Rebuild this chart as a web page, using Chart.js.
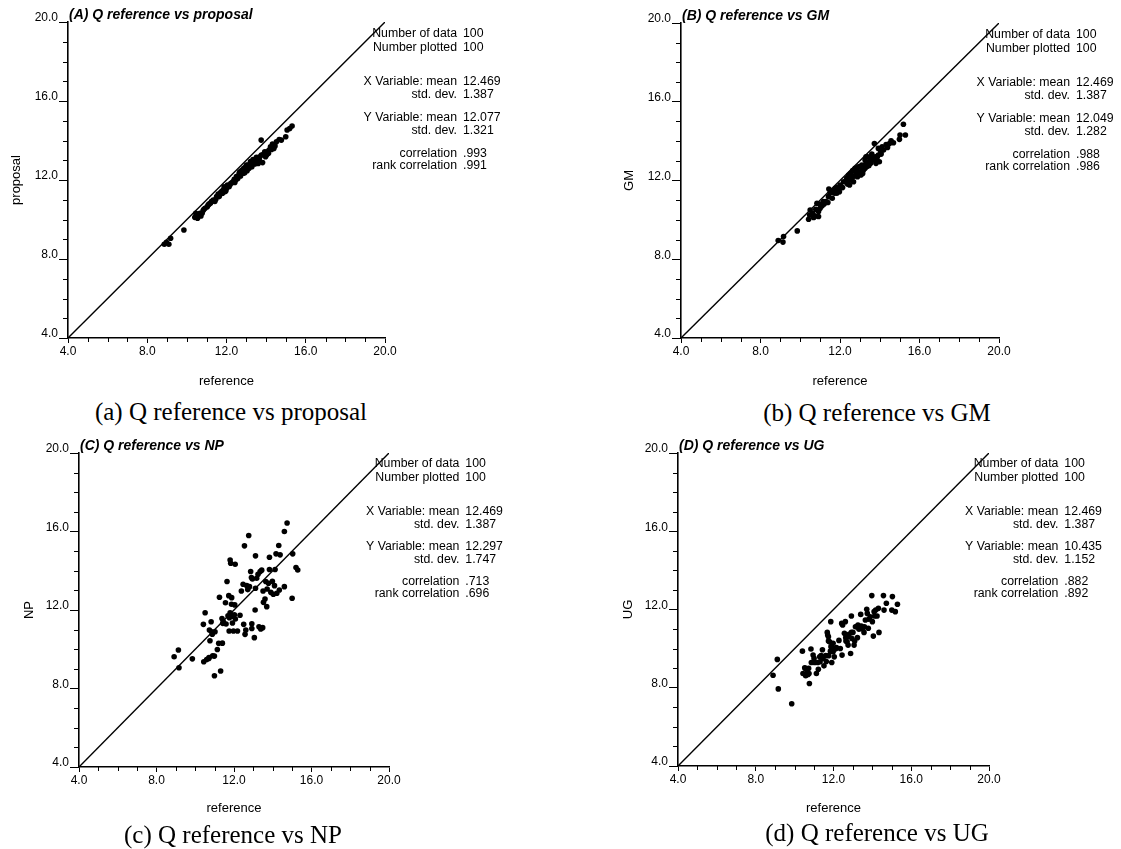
<!DOCTYPE html>
<html>
<head>
<meta charset="utf-8">
<script src="https://cdn.jsdelivr.net/npm/chart.js@4.4.1/dist/chart.umd.min.js"></script>
<style>
  body { margin: 0; background: #fff; width: 1121px; height: 849px; position: relative; overflow: hidden; }
  canvas { position: absolute; }
  .caption {
    position: absolute;
    font-family: "Liberation Serif", "Times New Roman", serif;
    font-size: 25px;
    color: #000;
    white-space: nowrap;
    transform: translate(-50%, -50%);
  }
</style>
</head>
<body>
<script>
// ---- data ----
const tickValues = [4, 8, 12, 16, 20];
const diagonal = [4, 20];
const panelLetters = ['A', 'B', 'C', 'D'];
const yNames = ['proposal', 'GM', 'NP', 'UG'];
const xName = 'reference';

const nData = ['100', '100', '100', '100'];
const nPlotted = ['100', '100', '100', '100'];
const xMean = ['12.469', '12.469', '12.469', '12.469'];
const xStd = ['1.387', '1.387', '1.387', '1.387'];
const yMean = ['12.077', '12.049', '12.297', '10.435'];
const yStd = ['1.321', '1.282', '1.747', '1.152'];
const corr = ['.993', '.988', '.713', '.882'];
const rankCorr = ['.991', '.986', '.696', '.892'];

// (A) reference vs proposal
const xA = [8.86, 8.97, 9.09, 9.18, 9.85, 10.40, 10.45, 10.54, 10.62, 10.71, 10.77, 10.82, 10.92, 11.03, 11.13,
  11.24, 11.33, 11.41, 11.50, 11.58, 11.66, 11.75, 11.83, 11.88, 11.97, 12.05, 12.13, 12.22, 12.34, 12.42,
  12.50, 12.57, 12.64, 12.71, 12.76, 12.81, 12.87, 12.92, 12.97, 13.04, 13.09, 13.14, 13.21, 13.28, 13.34,
  13.43, 13.51, 13.60, 13.68, 13.75, 13.82, 13.88, 13.97, 14.05, 14.15, 14.22, 14.32, 14.39, 14.52, 14.66,
  14.77, 14.99, 15.06, 15.19, 15.31, 10.49, 10.66, 10.86, 11.08, 11.19, 11.46, 11.63, 11.80, 11.92, 12.00,
  12.17, 12.29, 12.39, 12.47, 12.61, 12.67, 12.79, 12.84, 12.96, 13.01, 13.08, 13.18, 13.24, 13.31, 13.38,
  13.48, 13.55, 13.65, 13.76, 13.93, 14.02, 14.12, 14.27, 14.45, 11.70];
const yA = [8.75, 8.85, 8.75, 9.05, 9.47, 10.11, 10.32, 10.06, 10.23, 10.18, 10.32, 10.45, 10.57, 10.65, 10.79,
  10.91, 10.99, 10.91, 11.16, 11.29, 11.24, 11.41, 11.49, 11.66, 11.46, 11.75, 11.66, 11.83, 11.92, 11.87,
  12.17, 12.08, 12.34, 12.20, 12.47, 12.34, 12.59, 12.37, 12.67, 12.47, 12.76, 12.59, 12.93, 12.67, 13.04,
  12.81, 13.15, 12.84, 13.18, 14.02, 12.88, 13.31, 13.18, 13.43, 13.52, 13.68, 13.82, 13.60, 13.94, 14.05,
  14.02, 14.19, 14.53, 14.61, 14.73, 10.18, 10.32, 10.52, 10.74, 10.82, 11.02, 11.16, 11.33, 11.41, 11.58,
  11.75, 11.87, 12.03, 12.00, 12.20, 12.42, 12.51, 12.34, 12.54, 12.76, 12.59, 12.76, 12.84, 12.93, 12.84,
  13.01, 12.93, 13.04, 13.26, 13.43, 13.26, 13.35, 13.55, 13.72, 11.36];

// (B) reference vs GM
const xB = [8.89, 9.13, 9.16, 9.85, 10.42, 10.47, 10.50, 10.60, 10.70, 10.75, 10.84, 10.92, 11.00, 11.10, 11.17,
  11.29, 11.39, 11.44, 11.51, 11.61, 11.67, 11.76, 11.84, 11.87, 11.97, 12.01, 12.13, 12.31, 12.38, 12.48,
  12.44, 12.54, 12.59, 12.64, 12.71, 12.76, 12.81, 12.88, 12.93, 12.98, 13.05, 13.10, 13.18, 13.26, 13.31,
  13.40, 13.45, 13.52, 13.60, 13.65, 13.73, 13.77, 13.85, 13.93, 13.98, 14.05, 14.12, 14.19, 14.32, 14.39,
  14.57, 14.69, 14.99, 15.02, 15.19, 15.29, 10.67, 12.34, 12.51, 12.68, 12.84, 13.01, 13.14, 13.34, 13.47,
  13.54, 13.68, 13.81, 13.88, 13.26, 12.93, 12.63, 12.18, 11.92, 11.72, 11.56, 11.20, 11.00, 10.78, 10.63,
  10.92, 13.10, 12.78, 14.07, 13.93, 13.60, 13.31, 11.42, 12.04, 14.49];
const yB = [8.95, 8.87, 9.15, 9.44, 10.03, 10.25, 10.50, 10.30, 10.15, 10.20, 10.84, 10.42, 10.59, 10.72, 10.93,
  10.93, 10.88, 11.57, 11.38, 11.10, 11.47, 11.60, 11.35, 11.65, 11.43, 11.77, 11.64, 11.94, 11.82, 11.77,
  12.28, 12.36, 12.11, 12.50, 12.23, 12.62, 12.36, 12.19, 12.70, 12.41, 12.28, 12.79, 12.53, 13.04, 12.87,
  13.21, 12.75, 13.12, 13.34, 13.04, 13.88, 13.21, 13.04, 13.29, 12.95, 13.46, 13.71, 13.55, 13.83, 13.68,
  14.02, 13.92, 14.09, 14.31, 14.86, 14.31, 10.12, 12.11, 12.02, 11.94, 12.53, 12.70, 12.36, 12.70, 12.95,
  12.87, 13.12, 12.87, 13.21, 12.62, 12.36, 12.19, 11.94, 11.52, 11.35, 11.48, 10.81, 10.81, 10.54, 10.34,
  10.17, 12.53, 12.50, 13.34, 13.63, 13.04, 13.21, 11.18, 11.69, 13.88];

// (C) reference vs NP
const xC = [8.91, 9.13, 9.16, 9.85, 10.42, 10.51, 10.44, 10.59, 10.71, 10.73, 10.82, 10.76, 10.88, 10.90, 10.99,
  10.99, 11.02, 11.14, 11.25, 11.21, 11.40, 11.31, 11.38, 11.45, 11.56, 11.59, 11.64, 11.75, 11.73, 11.80,
  11.83, 11.88, 11.87, 11.80, 11.76, 11.90, 11.92, 11.97, 12.02, 12.06, 12.07, 12.18, 12.31, 12.38, 12.47,
  12.50, 12.54, 12.57, 12.61, 12.66, 12.71, 12.76, 12.86, 12.90, 12.92, 12.92, 13.05, 13.09, 13.11, 13.11,
  13.17, 13.24, 13.29, 13.35, 13.38, 13.43, 13.48, 13.50, 13.52, 13.60, 13.64, 13.69, 13.71, 13.83, 13.83,
  13.98, 14.03, 14.09, 14.12, 14.17, 14.21, 14.31, 14.34, 14.38, 14.60, 14.60, 14.74, 15.00, 15.03, 15.20,
  15.29, 12.04, 10.85, 12.95, 13.78, 11.42, 11.69, 13.90, 10.70, 12.80];
const yC = [9.62, 9.96, 9.06, 9.51, 11.27, 11.86, 9.36, 9.48, 9.58, 10.98, 11.40, 10.43, 10.77, 9.67, 9.65,
  8.65, 10.89, 9.99, 12.65, 10.30, 10.31, 8.89, 11.57, 11.40, 12.37, 11.29, 13.45, 10.93, 12.73, 14.55,
  14.38, 12.63, 12.29, 11.86, 11.61, 11.68, 11.34, 10.93, 11.76, 14.33, 11.54, 10.93, 11.73, 12.97, 13.31,
  11.27, 15.27, 10.76, 10.98, 13.24, 13.04, 15.80, 13.96, 13.65, 11.30, 11.06, 10.59, 12.00, 13.11, 14.76,
  13.62, 13.82, 11.15, 13.96, 11.03, 14.03, 11.10, 12.97, 12.39, 12.56, 13.45, 12.17, 13.07, 14.06, 14.69,
  13.46, 12.80, 13.24, 14.06, 14.86, 12.85, 15.29, 13.02, 14.81, 13.19, 16.00, 16.43, 12.60, 14.86, 14.16,
  14.04, 12.26, 10.89, 13.58, 13.36, 11.32, 11.71, 12.90, 9.53, 13.19];

// (D) reference vs UG
const xD = [8.89, 9.11, 9.16, 9.85, 10.40, 10.43, 10.55, 10.57, 10.64, 10.72, 10.76, 10.74, 10.84, 10.86, 10.95,
  11.00, 11.12, 11.22, 11.31, 11.36, 11.43, 11.51, 11.60, 11.63, 11.68, 11.74, 11.75, 11.80, 11.86, 11.87,
  11.91, 11.92, 11.98, 12.03, 12.04, 12.15, 12.28, 12.35, 12.44, 12.47, 12.56, 12.61, 12.63, 12.70, 12.75,
  12.80, 12.88, 12.92, 12.92, 12.95, 13.06, 13.09, 13.13, 13.23, 13.26, 13.35, 13.40, 13.43, 13.50, 13.57,
  13.64, 13.71, 13.74, 13.79, 13.97, 14.00, 14.05, 14.12, 14.17, 14.24, 14.31, 14.34, 14.57, 14.60, 14.72,
  15.00, 15.03, 15.18, 15.29, 11.74, 11.98, 11.84, 11.29, 11.03, 10.52, 12.75, 13.00, 13.31, 13.59, 13.82,
  14.09, 12.42, 12.10, 11.70, 11.46, 11.19, 12.64, 13.18, 13.89, 10.69];
const yD = [8.64, 9.45, 7.94, 7.18, 9.87, 8.73, 8.99, 8.61, 8.76, 8.99, 8.22, 8.73, 9.98, 9.29, 9.67,
  9.50, 8.73, 8.94, 9.33, 9.64, 9.94, 9.12, 9.64, 9.34, 10.83, 10.61, 9.64, 10.35, 11.38, 10.10,
  9.29, 9.87, 10.27, 10.01, 9.58, 10.05, 10.42, 10.01, 9.67, 11.21, 10.78, 11.38, 10.56, 10.35, 10.18,
  10.73, 9.75, 11.67, 10.83, 10.52, 10.18, 10.39, 11.12, 10.56, 11.21, 11.04, 11.75, 11.16, 11.00, 10.83,
  11.46, 12.01, 11.80, 11.04, 12.71, 11.38, 10.64, 11.67, 11.97, 11.67, 12.06, 10.83, 12.71, 11.97, 12.32,
  11.97, 12.66, 11.89, 12.27, 10.39, 9.84, 9.87, 9.58, 9.29, 9.02, 10.61, 10.83, 10.99, 11.12, 11.50,
  11.89, 11.29, 9.98, 10.70, 9.50, 9.29, 10.39, 11.12, 11.63, 8.68];

const xSeries = [xA, xB, xC, xD];
const ySeries = [yA, yB, yC, yD];

// ---- layout of each panel's plot area on the page ----
const boxes = [
  { l: 68, t: 22, r: 385, b: 338, s: 1, yTitlePad: 9, xTitlePad: 9, capX: 231, capY: 412 },
  { l: 681, t: 23, r: 999, b: 338, s: 1, yTitlePad: 9, xTitlePad: 9, capX: 877, capY: 413 },
  { l: 79, t: 453, r: 389, b: 767, s: 0.978, yTitlePad: 11, xTitlePad: 11, capX: 233, capY: 835 },
  { l: 678, t: 453, r: 989, b: 766, s: 0.978, yTitlePad: 11, xTitlePad: 10, capX: 877, capY: 833 }
];

Chart.defaults.font.family = '"Liberation Sans", Arial, sans-serif';
Chart.defaults.color = '#000';

const Y_AXIS_W = 68;
const X_AXIS_H = 60;

function decorPlugin(i) {
  const box = boxes[i];
  const stats = [
    ['Number of data', nData[i], 11.3],
    ['Number plotted', nPlotted[i], 25.3],
    ['X Variable: mean', xMean[i], 59.7],
    ['std. dev.', xStd[i], 73],
    ['Y Variable: mean', yMean[i], 95.3],
    ['std. dev.', yStd[i], 108.7],
    ['correlation', corr[i], 131.3],
    ['rank correlation', rankCorr[i], 143.7]
  ];
  return {
    id: 'decor' + i,
    afterDraw(chart) {
      const ctx = chart.ctx;
      const a = chart.chartArea;
      const xs = chart.scales.x;
      const ys = chart.scales.y;
      ctx.save();
      // minor ticks every unit
      ctx.strokeStyle = '#000';
      ctx.lineWidth = 1;
      ctx.beginPath();
      for (let v = tickValues[0]; v <= tickValues[tickValues.length - 1]; v++) {
        if (tickValues.includes(v)) continue;
        const px = Math.round(xs.getPixelForValue(v)) + 0.5;
        ctx.moveTo(px, a.bottom);
        ctx.lineTo(px, a.bottom + 4);
        const py = Math.round(ys.getPixelForValue(v)) + 0.5;
        ctx.moveTo(a.left - 5, py);
        ctx.lineTo(a.left, py);
      }
      ctx.stroke();

      // panel title
      ctx.fillStyle = '#000';
      ctx.font = 'italic bold 14px "Liberation Sans", Arial, sans-serif';
      ctx.textAlign = 'left';
      ctx.textBaseline = 'middle';
      ctx.fillText('(' + panelLetters[i] + ') Q ' + xName + ' vs ' + yNames[i], a.left + 1, a.top - 7);

      // statistics block
      ctx.font = '12.3px "Liberation Sans", Arial, sans-serif';
      stats.forEach(function (row) {
        const y = a.top + row[2] * box.s;
        ctx.textAlign = 'right';
        ctx.fillText(row[0], a.left + 389 * box.s, y);
        ctx.textAlign = 'left';
        ctx.fillText(row[1], a.left + 395 * box.s, y);
      });
      ctx.restore();
    }
  };
}

function makePanel(i) {
  const box = boxes[i];
  const left = box.l - Y_AXIS_W;
  const top = box.t - 22;
  const width = Math.min(560, 1121 - left);
  const height = (box.b - box.t) + 22 + X_AXIS_H;

  const canvas = document.createElement('canvas');
  canvas.width = width;
  canvas.height = height;
  canvas.style.left = left + 'px';
  canvas.style.top = top + 'px';
  canvas.style.width = width + 'px';
  canvas.style.height = height + 'px';
  document.body.appendChild(canvas);

  const points = xSeries[i].map(function (x, k) { return { x: x, y: ySeries[i][k] }; });

  const axisCommon = {
    type: 'linear',
    min: tickValues[0],
    max: tickValues[tickValues.length - 1],
    afterBuildTicks: function (s) { s.ticks = tickValues.map(function (v) { return { value: v }; }); },
    border: { display: true, color: '#000', width: 1.6 },
  };

  new Chart(canvas, {
    data: {
      datasets: [
        {
          type: 'line',
          data: diagonal.map(function (v) { return { x: v, y: v }; }),
          borderColor: '#000',
          borderWidth: 1.4,
          pointRadius: 0,
          fill: false
        },
        {
          type: 'scatter',
          data: points,
          backgroundColor: '#000',
          borderWidth: 0,
          pointRadius: 2.8
        }
      ]
    },
    options: {
      responsive: false,
      animation: false,
      devicePixelRatio: 1,
      layout: {
        padding: { left: 0, top: 22, right: width - Y_AXIS_W - (box.r - box.l), bottom: 0 }
      },
      plugins: { legend: { display: false }, tooltip: { enabled: false } },
      scales: {
        x: Object.assign({}, axisCommon, {
          position: 'bottom',
          afterFit: function (s) { s.height = X_AXIS_H; },
          grid: { display: true, drawOnChartArea: false, drawTicks: true, tickLength: 5, color: '#000', tickColor: '#000' },
          ticks: { font: { size: 12 }, color: '#000', padding: 1, maxRotation: 0,
            callback: function (v) { return Number(v).toFixed(1); } },
          title: { display: true, text: xName, font: { size: 13 }, color: '#000', padding: { top: 0, bottom: box.xTitlePad } }
        }),
        y: Object.assign({}, axisCommon, {
          position: 'left',
          afterFit: function (s) { s.width = Y_AXIS_W; },
          grid: { display: true, drawOnChartArea: false, drawTicks: true, tickLength: 9, color: '#000', tickColor: '#000' },
          ticks: { font: { size: 12 }, color: '#000', padding: 1, labelOffset: -4,
            callback: function (v) { return Number(v).toFixed(1); } },
          title: { display: true, text: yNames[i], font: { size: 13 }, color: '#000', padding: { top: box.yTitlePad, bottom: 0 } }
        })
      }
    },
    plugins: [decorPlugin(i)]
  });

  const cap = document.createElement('div');
  cap.className = 'caption';
  cap.style.left = box.capX + 'px';
  cap.style.top = box.capY + 'px';
  cap.textContent = '(' + panelLetters[i].toLowerCase() + ') Q ' + xName + ' vs ' + yNames[i];
  document.body.appendChild(cap);
}

for (let i = 0; i < 4; i++) makePanel(i);
</script>
</body>
</html>
